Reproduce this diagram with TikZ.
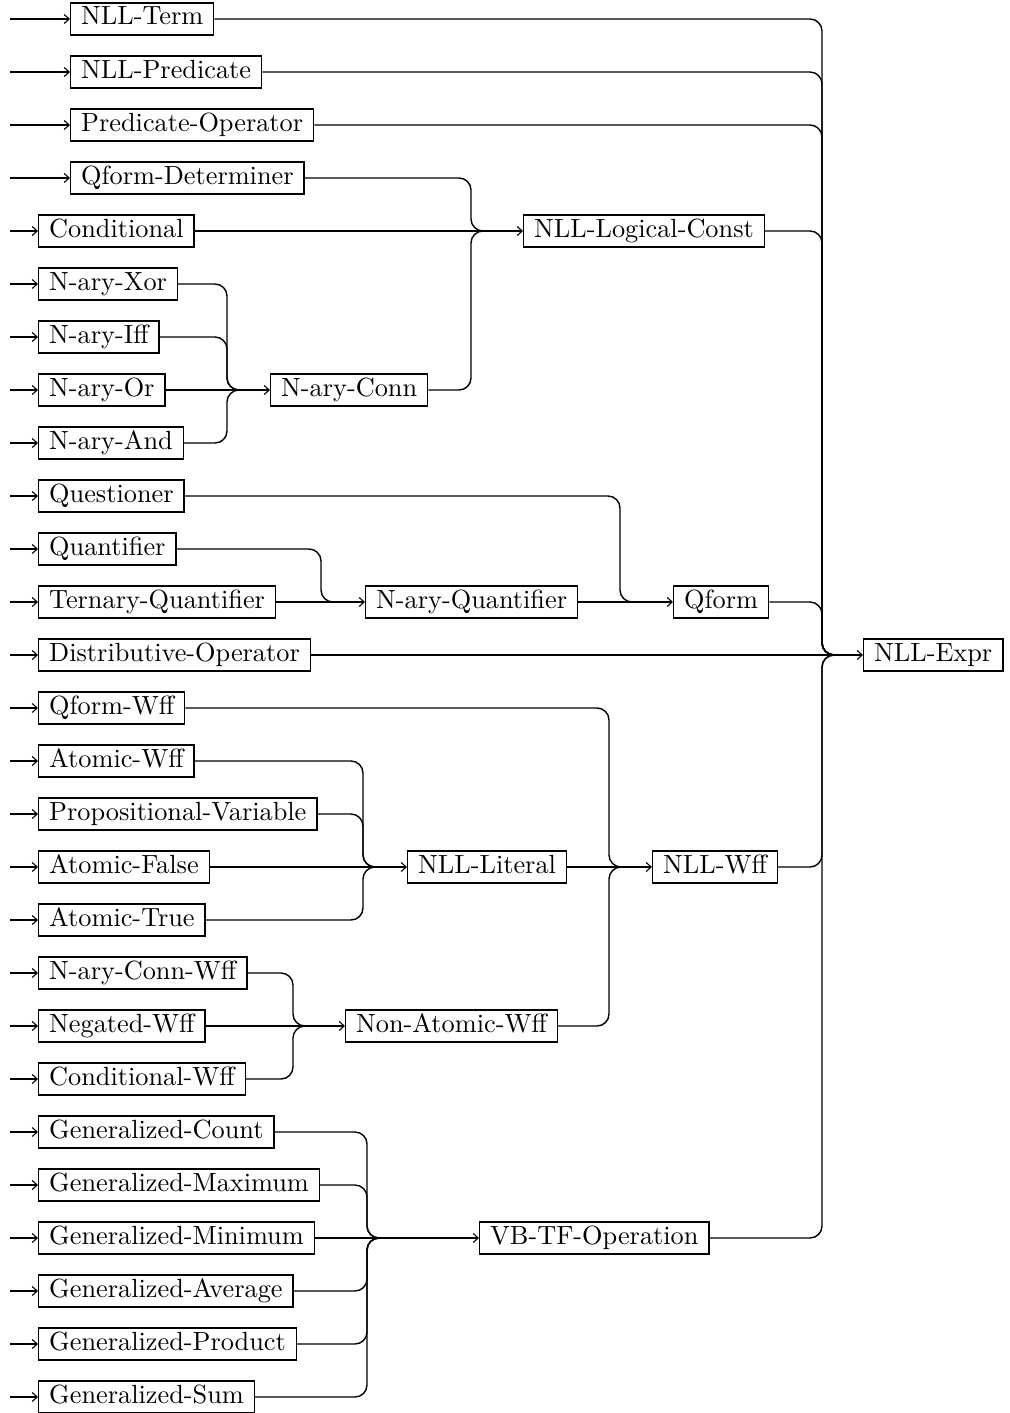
\documentclass[tikz,border=0pt]{standalone}
\usepackage{fontspec}
\setmainfont{lmroman10-regular}[Extension=.otf]
\usetikzlibrary{arrows.meta,calc}
\tikzset{
  box/.style={draw, line width=1.4pt, anchor=west, inner xsep=10.5pt, inner ysep=0pt,
    minimum height=32pt, text height=18pt, text depth=6pt,
    font=\fontsize{26.3}{30}\selectfont},
  conn/.style={line width=1.4pt, rounded corners=12pt},
  arr/.style={line width=1.4pt, -{Straight Barb[length=5pt,width=9pt,line width=1.1pt]}}
}
\newcommand\mergein[4]{\draw[conn] (#1.east) -| (#2 |- #4.west) -- (#3 |- #4.west);}
\begin{document}
\begin{tikzpicture}[x=1pt,y=-1pt]
\useasboundingbox (0,0) rectangle (1009,1413);
% left column
\foreach \n/\t/\x/\r in {
  term/NLL-Term/70/1, pred/NLL-Predicate/70/2, pop/Predicate-Operator/70/3,
  qdet/Qform-Determiner/70/4, cond/Conditional/38/5, xor/N-ary-Xor/38/6,
  iff/N-ary-Iff/38/7, or/N-ary-Or/38/8, and/N-ary-And/38/9,
  quest/Questioner/38/10, quant/Quantifier/38/11, tern/Ternary-Quantifier/38/12,
  dist/Distributive-Operator/38/13, qwff/Qform-Wff/38/14, awff/Atomic-Wff/38/15,
  pvar/Propositional-Variable/38/16, afalse/Atomic-False/38/17, atrue/Atomic-True/38/18,
  ncwff/N-ary-Conn-Wff/38/19, neg/Negated-Wff/38/20, cwff/Conditional-Wff/38/21,
  gcount/Generalized-Count/38/22, gmax/Generalized-Maximum/38/23,
  gmin/Generalized-Minimum/38/24, gavg/Generalized-Average/38/25,
  gprod/Generalized-Product/38/26, gsum/Generalized-Sum/38/27}{
  \node[box] (\n) at (\x,{19+(\r-1)*53}) {\t};
  \coordinate (\n-in) at (10,{19+(\r-1)*53});
  \draw[arr] (\n-in) -- (\n.west);
}
% right-hand nodes
\node[box] (lconst) at (523,{19+4*53}) {NLL-Logical-Const};
\node[box] (nconn) at (270,{19+7*53}) {N-ary-Conn};
\node[box] (nquant) at (365,{19+11*53}) {N-ary-Quantifier};
\node[box] (qform) at (673,{19+11*53}) {Qform};
\node[box] (expr) at (863,{19+12*53}) {NLL-Expr};
\node[box] (lit) at (407,{19+16*53}) {NLL-Literal};
\node[box] (wff) at (652,{19+16*53}) {NLL-Wff};
\node[box] (naw) at (345,{19+19*53}) {Non-Atomic-Wff};
\node[box] (vb) at (479,{19+23*53}) {VB-TF-Operation};
% bus and tip coordinates
\coordinate (b-nc) at (227,0); \coordinate (t-nc) at (239,0);
\coordinate (b-lc) at (471,0); \coordinate (t-lc) at (483,0);
\coordinate (b-nq) at (321,0); \coordinate (t-nq) at (333,0);
\coordinate (b-qf) at (620,0); \coordinate (t-qf) at (632,0);
\coordinate (b-li) at (363,0); \coordinate (t-li) at (375,0);
\coordinate (b-na) at (293,0); \coordinate (t-na) at (305,0);
\coordinate (b-wf) at (609,0); \coordinate (t-wf) at (621,0);
\coordinate (b-vb) at (367,0); \coordinate (t-vb) at (379,0);
\coordinate (b-ex) at (822,0); \coordinate (t-ex) at (834,0);
% N-ary-Conn
\mergein{xor}{b-nc}{t-nc}{nconn}
\mergein{iff}{b-nc}{t-nc}{nconn}
\mergein{and}{b-nc}{t-nc}{nconn}
\draw[arr] (or.east) -- (nconn.west);
% NLL-Logical-Const
\mergein{qdet}{b-lc}{t-lc}{lconst}
\mergein{nconn}{b-lc}{t-lc}{lconst}
\draw[arr] (cond.east) -- (lconst.west);
% N-ary-Quantifier
\mergein{quant}{b-nq}{t-nq}{nquant}
\draw[arr] (tern.east) -- (nquant.west);
% Qform
\mergein{quest}{b-qf}{t-qf}{qform}
\draw[arr] (nquant.east) -- (qform.west);
% NLL-Literal
\mergein{awff}{b-li}{t-li}{lit}
\mergein{pvar}{b-li}{t-li}{lit}
\mergein{atrue}{b-li}{t-li}{lit}
\draw[arr] (afalse.east) -- (lit.west);
% Non-Atomic-Wff
\mergein{ncwff}{b-na}{t-na}{naw}
\mergein{cwff}{b-na}{t-na}{naw}
\draw[arr] (neg.east) -- (naw.west);
% NLL-Wff
\mergein{qwff}{b-wf}{t-wf}{wff}
\mergein{naw}{b-wf}{t-wf}{wff}
\draw[arr] (lit.east) -- (wff.west);
% VB-TF-Operation
\mergein{gcount}{b-vb}{t-vb}{vb}
\mergein{gmax}{b-vb}{t-vb}{vb}
\mergein{gavg}{b-vb}{t-vb}{vb}
\mergein{gprod}{b-vb}{t-vb}{vb}
\mergein{gsum}{b-vb}{t-vb}{vb}
\draw[arr] (gmin.east) -- (vb.west);
% NLL-Expr
\mergein{term}{b-ex}{t-ex}{expr}
\mergein{pred}{b-ex}{t-ex}{expr}
\mergein{pop}{b-ex}{t-ex}{expr}
\mergein{lconst}{b-ex}{t-ex}{expr}
\mergein{qform}{b-ex}{t-ex}{expr}
\mergein{wff}{b-ex}{t-ex}{expr}
\mergein{vb}{b-ex}{t-ex}{expr}
\draw[arr] (dist.east) -- (expr.west);
\end{tikzpicture}
\end{document}
